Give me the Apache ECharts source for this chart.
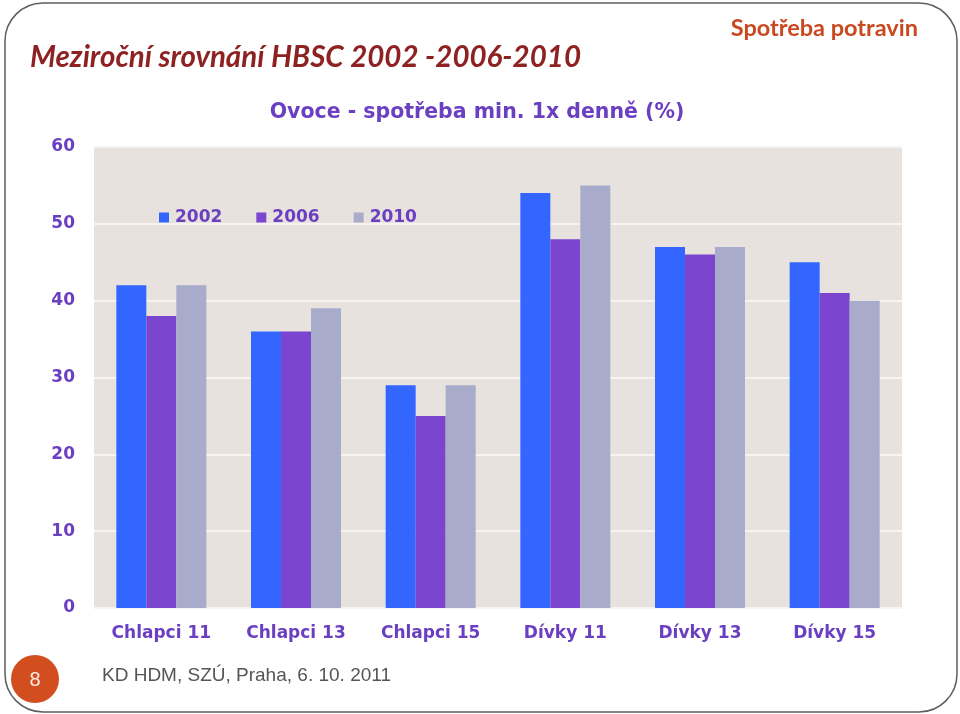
<!DOCTYPE html>
<html>
<head>
<meta charset="utf-8">
<script src="https://cdn.jsdelivr.net/npm/echarts@6/dist/echarts.min.js"></script>
<style>
html,body{margin:0;padding:0;background:#fff;}
#c{width:960px;height:714px;}
</style>
</head>
<body>
<div id="c"></div>
<script>
const categories = ['Chlapci 11', 'Chlapci 13', 'Chlapci 15', 'Dívky 11', 'Dívky 13', 'Dívky 15'];
const seriesNames = ['2002', '2006', '2010'];
const values2002 = [42, 36, 29, 54, 47, 45];
const values2006 = [38, 36, 25, 48, 46, 41];
const values2010 = [42, 39, 29, 55, 47, 40];
const yTicks = [0, 10, 20, 30, 40, 50, 60];

const purple = '#6A3FC2';
const colors = ['#3366FF', '#7B45CF', '#A9ABCB'];
const seriesData = [values2002, values2006, values2010];

const chart = echarts.init(document.getElementById('c'));
chart.setOption({
  animation: false,
  backgroundColor: '#ffffff',
  title: [
    {
      text: 'Meziroční srovnání HBSC 2002 -2006-2010',
      left: 30, top: 42, padding: 0,
      textStyle: { fontFamily: 'Lato', fontStyle: 'italic', fontWeight: 'bold', fontSize: 29.5, color: '#8E2222' }
    },
    {
      text: 'Spotřeba potravin',
      right: 42, top: 16, padding: 0,
      textStyle: { fontFamily: 'Lato', fontWeight: 'bold', fontSize: 23.5, color: '#C8481F' }
    },
    {
      text: 'Ovoce - spotřeba min. 1x denně (%)',
      left: 472, textAlign: 'center', top: 97,
      textStyle: { fontFamily: 'DejaVu Sans', fontWeight: 'bold', fontSize: 20.5, color: purple }
    },
    {
      text: 'KD HDM, SZÚ, Praha, 6. 10. 2011',
      left: 102, top: 666, padding: 0,
      textStyle: { fontFamily: 'Liberation Sans', fontWeight: 'normal', fontSize: 19, color: '#555555' }
    }
  ],
  legend: {
    data: seriesNames,
    left: 154, top: 204,
    itemWidth: 10, itemHeight: 10, itemGap: 34,
    icon: 'rect',
    textStyle: { fontFamily: 'DejaVu Sans', fontWeight: 'bold', fontSize: 17, color: purple, padding: [0, 0, 0, 1] }
  },
  grid: { left: 94, right: 58, top: 147, bottom: 106, containLabel: false,
          show: true, backgroundColor: '#E7E2DD', borderWidth: 0 },
  xAxis: {
    type: 'category',
    data: categories,
    axisLine: { show: false },
    axisTick: { show: false },
    axisLabel: { margin: 17, fontFamily: 'DejaVu Sans', fontWeight: 'bold', fontSize: 17, color: purple }
  },
  yAxis: {
    type: 'value',
    min: 0, max: 60, interval: 10,
    axisLine: { show: false },
    axisTick: { show: false },
    splitLine: { show: true, lineStyle: { color: '#F6F3F0', width: 2 } },
    axisLabel: { margin: 19, fontFamily: 'DejaVu Sans', fontWeight: 'bold', fontSize: 17, color: purple,
      formatter: v => yTicks.includes(v) ? String(v) : '' }
  },
  series: seriesNames.map((n, i) => ({
    name: n,
    type: 'bar',
    data: seriesData[i],
    barWidth: 30,
    barGap: '0%',
    itemStyle: { color: colors[i] }
  })),
  graphic: [
    {
      type: 'rect', z: 100, silent: true,
      shape: { x: 5, y: 3, width: 952, height: 709, r: 38 },
      style: { fill: 'none', stroke: '#5E5E5E', lineWidth: 1.5 }
    },
    {
      type: 'circle', z: 101, silent: true,
      shape: { cx: 35, cy: 679, r: 24 },
      style: { fill: '#D24E1E' }
    },
    {
      type: 'text', z: 102, silent: true,
      style: { x: 35, y: 680, text: '8', fill: '#FCEDE6', font: '20px "Liberation Sans"',
               textAlign: 'center', textVerticalAlign: 'middle' }
    }
  ]
});
</script>
</body>
</html>
